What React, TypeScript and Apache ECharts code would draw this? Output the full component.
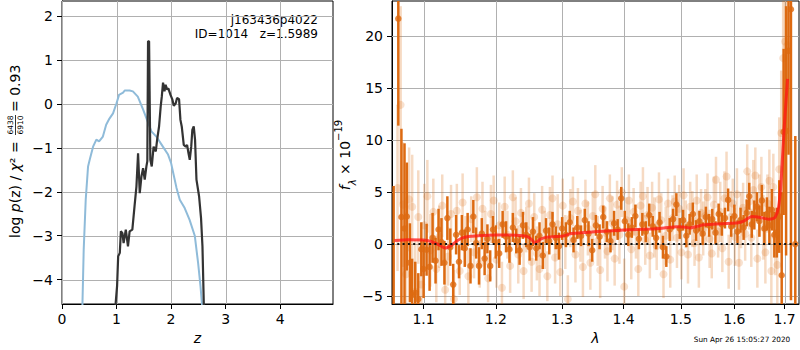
import React, { useEffect, useRef } from "react";
import * as echarts from "echarts";

const FONT = "'DejaVu Sans', sans-serif";

// ---- left panel: log p(z) curves ----
const zTicks = [0, 1, 2, 3, 4];
const logpTicks = [-4, -3, -2, -1, 0, 1, 2];

const blueCurve: [number, number][] = [
  [0.36, -6], [0.374, -4.6], [0.398, -3.32], [0.435, -2.18], [0.478, -1.42], [0.508, -1.27],
  [0.57, -0.97], [0.63, -0.81], [0.68, -0.85], [0.75, -0.74], [0.81, -0.47], [0.87, -0.33],
  [0.936, -0.21], [1.0, 0.02], [1.046, 0.21], [1.12, 0.26], [1.15, 0.31], [1.24, 0.31],
  [1.3, 0.29], [1.39, 0.17], [1.49, -0.13], [1.58, -0.43], [1.64, -0.62], [1.73, -0.74],
  [1.85, -0.97], [1.945, -1.15], [2.0, -1.34], [2.04, -1.57], [2.1, -1.91], [2.16, -2.18],
  [2.25, -2.37], [2.34, -2.64], [2.435, -3.0], [2.496, -3.62], [2.54, -4.15], [2.57, -4.6],
  [2.59, -6],
];

const blackCurve: [number, number][] = [
  [0.96, -6], [0.985, -4.53], [1.01, -4.15], [1.03, -3.47], [1.06, -3.39], [1.08, -2.9],
  [1.108, -2.94], [1.13, -3.17], [1.17, -2.86], [1.21, -3.24], [1.24, -2.9], [1.29, -2.86],
  [1.33, -2.33], [1.365, -1.88], [1.395, -1.12], [1.426, -2.03], [1.457, -1.65], [1.487, -1.46],
  [1.517, -1.72], [1.548, -1.42], [1.565, -1.3], [1.578, 1.43], [1.597, 1.43], [1.62, -1.27],
  [1.646, -1.42], [1.68, -0.97], [1.72, -1.08], [1.745, -0.81], [1.78, -0.51], [1.81, -0.05],
  [1.83, 0.17], [1.853, 0.49], [1.88, 0.29], [1.9, 0.44], [1.93, 0.33], [1.95, 0.36],
  [1.99, 0.21], [2.025, 0.1], [2.05, -0.04], [2.086, 0.02], [2.11, 0.14], [2.147, 0.11],
  [2.172, -0.36], [2.196, -0.51], [2.233, -0.93], [2.27, -0.97], [2.294, -0.93], [2.32, -1.12],
  [2.343, -1.27], [2.37, -0.97], [2.39, -0.59], [2.416, -0.51], [2.44, -0.81], [2.466, -1.72],
  [2.514, -2.1], [2.55, -2.6], [2.576, -3.24], [2.6, -4.53], [2.61, -6],
];

// ---- right panel: spectrum ----
const lamTicks = [1.1, 1.2, 1.3, 1.4, 1.5, 1.6, 1.7];
const fluxTicks = [-5, 0, 5, 10, 15, 20];
const lamRange = [1.0589, 1.7297];

// [lambda, flux, err]
const darkPoints: [number, number, number][] = [
  [1.061, -9, 14.6], [1.067, 21.7, 10.3], [1.071, 2.6, 8.5], [1.075, 1.5, 8.2], [1.078, 2.65, 5.2],
  [1.082, -1.8, 3.8], [1.085, -4.9, 3.5], [1.089, -4.7, 3.0], [1.093, -5.3, 2.5], [1.097, -0.5, 2.6],
  [1.1, -2.4, 2.8], [1.104, -0.55, 2.5], [1.108, -2.2, 2.3], [1.112, 0.6, 2.4], [1.116, -1.6, 2.2],
  [1.12, 1.4, 2.0], [1.124, 0.2, 2.3], [1.128, -1.8, 2.1], [1.132, 2.5, 2.1], [1.136, -0.3, 1.8],
  [1.14, -3.9, 2.0], [1.144, 0.9, 1.9], [1.148, -1.7, 1.6], [1.152, 1.1, 1.7], [1.156, -0.4, 1.8],
  [1.16, 1.4, 1.6], [1.164, -2.1, 1.7], [1.168, 2.65, 1.6], [1.172, 0.1, 1.5], [1.176, -2.1, 1.8],
  [1.18, 1.0, 1.5], [1.184, -1.4, 1.6], [1.188, 0.5, 1.4], [1.192, -2.1, 1.5], [1.196, 1.4, 1.3],
  [1.2, 0.2, 1.6], [1.205, -0.9, 1.4], [1.21, 1.9, 1.3], [1.215, 0.7, 1.5], [1.22, -0.5, 1.3],
  [1.225, 1.6, 1.4], [1.23, 0.3, 1.2], [1.235, -0.6, 1.4], [1.24, 1.8, 1.3], [1.245, 0.9, 1.2],
  [1.25, -0.3, 1.3], [1.255, 1.2, 1.4], [1.26, -0.4, 1.2], [1.265, 0.8, 1.3], [1.27, -1.1, 1.3],
  [1.275, 1.3, 1.2], [1.28, 0.3, 1.3], [1.285, 1.9, 1.2], [1.29, 0.6, 1.1], [1.295, -0.2, 1.3],
  [1.3, 1.5, 1.1], [1.306, 0.9, 1.2], [1.312, 2.1, 1.1], [1.318, 0.4, 1.2], [1.324, 1.6, 1.1],
  [1.33, 0.8, 1.0], [1.336, 2.3, 1.1], [1.342, 1.0, 1.2], [1.348, -0.6, 1.1], [1.354, 1.8, 1.0],
  [1.36, 0.7, 1.2], [1.366, 2.6, 1.1], [1.372, 1.2, 1.0], [1.378, 0.3, 1.1], [1.384, 2.0, 1.2],
  [1.39, 1.4, 1.0], [1.396, 4.4, 1.1], [1.402, 2.2, 1.0], [1.408, 0.9, 1.1], [1.414, 1.6, 1.0],
  [1.42, 2.7, 1.1], [1.426, 0.5, 1.0], [1.432, 1.9, 1.1], [1.438, 1.2, 1.0], [1.444, 2.8, 1.1],
  [1.45, 1.7, 1.0], [1.456, 0.6, 1.1], [1.462, 2.1, 1.0], [1.468, -0.3, 1.1], [1.474, -1.2, 1.0],
  [1.48, 1.4, 1.1], [1.486, 2.4, 1.0], [1.492, 3.8, 1.1], [1.498, 1.5, 1.0], [1.504, 2.3, 1.0],
  [1.51, 0.8, 1.1], [1.516, 1.9, 1.0], [1.522, 2.9, 1.1], [1.528, 1.3, 1.0], [1.534, 2.2, 1.0],
  [1.54, 1.0, 1.1], [1.546, 2.6, 1.0], [1.552, 1.8, 1.1], [1.558, 2.4, 1.0], [1.564, 1.1, 1.1],
  [1.57, 2.9, 1.0], [1.576, 1.9, 1.1], [1.582, 2.5, 1.0], [1.588, 4.25, 1.1], [1.594, 1.7, 1.0],
  [1.6, 2.7, 1.1], [1.606, 1.2, 1.1], [1.612, 2.3, 1.2], [1.618, 1.6, 1.2], [1.624, 3.0, 1.3],
  [1.629, 4.6, 1.3], [1.634, 1.9, 1.3], [1.639, 2.8, 1.4], [1.644, 3.6, 1.4], [1.649, 2.2, 1.5],
  [1.654, 4.2, 1.5], [1.659, 1.5, 1.6], [1.664, 2.9, 1.6], [1.669, 1.8, 1.8], [1.674, 3.3, 2.0],
  [1.679, 0.9, 2.2], [1.684, 1.1, 2.4], [1.689, 2.65, 3.5], [1.694, -3, 8], [1.698, 10.8, 8],
  [1.703, 10.9, 12], [1.708, 18.6, 10], [1.713, 22.6, 28], [1.722, 0, 10.4],
];

const lightPoints: [number, number, number][] = [
  [1.066, 5.4, 8], [1.07, 13.4, 9.5], [1.073, 3.8, 6], [1.077, -2.9, 6], [1.081, 4.3, 5],
  [1.085, 3.6, 5], [1.089, -4.6, 5], [1.093, 2.6, 4.5], [1.097, -3.9, 4], [1.101, 1.8, 4],
  [1.105, 4.6, 3.5], [1.109, -0.6, 3.5], [1.113, 3.1, 3.2], [1.117, -2.4, 3.2], [1.121, 0.7, 3],
  [1.125, 3.7, 3], [1.129, -4.4, 3], [1.133, -1.2, 2.8], [1.137, 2.9, 2.8], [1.141, -5.3, 2.8],
  [1.145, 3.2, 2.6], [1.149, -2.6, 2.3], [1.153, 4.0, 2.8], [1.157, 0.3, 2.4], [1.161, -3.1, 2.7],
  [1.165, 2.4, 2.2], [1.169, -0.8, 2.5], [1.173, 4.5, 2.9], [1.177, -1.9, 2.3], [1.181, 3.4, 2.6],
  [1.185, 0.6, 2.6], [1.189, -3.3, 2.3], [1.193, 2.9, 2.8], [1.197, 4.2, 2.4], [1.201, -1.5, 2.7],
  [1.205, 1.8, 2.2], [1.209, -4.2, 2.5], [1.213, 3.6, 2.9], [1.217, 0.9, 2.3], [1.221, -2.1, 2.6],
  [1.225, 4.5, 2.6], [1.229, 2.2, 2.3], [1.233, -1.0, 2.8], [1.237, 3.0, 2.4], [1.241, -2.6, 2.7],
  [1.245, 1.4, 2.2], [1.249, 3.9, 2.5], [1.253, -1.7, 2.9], [1.257, 2.6, 2.3], [1.261, -0.9, 2.6],
  [1.265, -2.4, 2.6], [1.269, 3.3, 2.3], [1.273, 0.4, 2.8], [1.277, -3.1, 2.4], [1.281, 2.8, 2.7],
  [1.285, 4.4, 2.2], [1.289, -1.3, 2.5], [1.293, 1.9, 2.9], [1.297, -2.7, 2.3], [1.301, 3.7, 2.6],
  [1.305, 0.2, 2.6], [1.309, -5.3, 2.3], [1.313, 2.5, 2.8], [1.317, 4.1, 2.4], [1.321, -1.0, 2.7],
  [1.325, 3.2, 2.2], [1.329, 0.8, 2.5], [1.333, -2.2, 2.9], [1.337, 3.9, 2.3], [1.341, 1.5, 2.6],
  [1.345, -1.8, 2.6], [1.349, 2.7, 2.3], [1.353, 4.8, 2.8], [1.357, 0.3, 2.4], [1.361, -2.5, 2.7],
  [1.365, 3.4, 2.2], [1.369, 1.1, 2.5], [1.373, -0.7, 2.9], [1.377, 4.4, 2.3], [1.381, 2.0, 2.6],
  [1.385, -1.4, 2.6], [1.389, 3.8, 2.3], [1.393, 0.9, 2.8], [1.397, 5.0, 2.4], [1.401, -4.1, 2.7],
  [1.405, 2.3, 2.2], [1.409, 4.2, 2.5], [1.413, -0.5, 2.9], [1.417, 3.1, 2.3], [1.421, 1.2, 2.6],
  [1.425, -2.4, 2.6], [1.429, 3.7, 2.3], [1.433, 4.6, 2.8], [1.437, 0.4, 2.4], [1.441, 2.8, 2.7],
  [1.445, -1.1, 2.2], [1.449, 3.5, 2.5], [1.453, 1.6, 2.9], [1.457, -0.2, 2.3], [1.461, 4.3, 2.6],
  [1.465, 2.3, 2.6], [1.469, -2.9, 2.3], [1.473, 0.8, 2.8], [1.477, 3.9, 2.4], [1.481, -1.5, 2.7],
  [1.485, 2.5, 2.2], [1.489, 4.1, 2.5], [1.493, 0.6, 2.9], [1.497, 3.4, 2.3], [1.501, -0.8, 2.6],
  [1.505, 4.7, 2.6], [1.509, 1.9, 2.3], [1.513, -1.0, 2.8], [1.517, 3.6, 2.4], [1.521, 2.4, 2.7],
  [1.525, 0.1, 2.2], [1.529, 4.2, 2.5], [1.533, -1.3, 2.9], [1.537, 3.0, 2.3], [1.541, 1.5, 2.6],
  [1.545, 2.7, 2.6], [1.549, 4.5, 2.3], [1.553, 0.5, 2.8], [1.557, -0.9, 2.4], [1.561, 3.8, 2.7],
  [1.565, 6.2, 2.2], [1.569, 1.2, 2.5], [1.573, 3.1, 2.9], [1.577, -0.4, 2.3], [1.581, 4.4, 2.6],
  [1.585, 6.5, 2.4], [1.589, -1.7, 2.6], [1.593, 2.6, 2.5], [1.597, 3.9, 2.4], [1.601, 0.7, 2.8],
  [1.605, 4.8, 2.5], [1.609, -1.8, 2.6], [1.613, 2.3, 2.7], [1.617, 3.5, 2.4], [1.621, 1.0, 2.6],
  [1.625, 7.0, 2.6], [1.629, 4.1, 2.7], [1.633, 0.6, 2.8], [1.637, 5.2, 2.9], [1.641, 6.6, 2.7],
  [1.645, -1.4, 2.8], [1.649, 3.7, 3.0], [1.653, 5.5, 2.9], [1.657, 1.6, 3.1], [1.661, -0.8, 3.0],
  [1.665, 3.9, 2.8], [1.669, 6.1, 3.0], [1.673, -2.6, 3.5], [1.677, 5.5, 3.2], [1.681, 0.8, 3.8],
  [1.685, -2.0, 4.5], [1.689, 7.2, 5], [1.693, 10.7, 6], [1.697, 17.9, 7], [1.701, 19.5, 8],
  [1.705, 19.1, 9],
];

const modelLine: [number, number][] = [
  [1.062, 0.35], [1.08, 0.42], [1.1, 0.4], [1.11, 0.25], [1.12, -0.05], [1.129, -0.38],
  [1.138, -0.1], [1.146, 0.35], [1.154, 0.62], [1.165, 0.75], [1.175, 0.8], [1.19, 0.85],
  [1.21, 0.87], [1.23, 0.85], [1.245, 0.75], [1.252, 0.5], [1.2586, 0.1], [1.266, 0.45],
  [1.2765, 0.67], [1.29, 0.72], [1.302, 0.77], [1.313, 1.0], [1.33, 1.08], [1.356, 1.2],
  [1.38, 1.28], [1.4, 1.35], [1.446, 1.45], [1.47, 1.55], [1.493, 1.67], [1.505, 1.65],
  [1.517, 1.55], [1.53, 1.7], [1.542, 1.85], [1.565, 1.92], [1.592, 2.0], [1.608, 2.05],
  [1.618, 2.2], [1.627, 2.5], [1.6344, 2.65], [1.651, 2.55], [1.6675, 2.4], [1.676, 2.45],
  [1.681, 2.6], [1.6877, 3.6], [1.692, 5.5], [1.6946, 7.5], [1.6994, 11.4], [1.706, 15.9],
];

const DARK = "#dd6a11";
const LIGHT = "rgba(221,106,17,0.25)";
const GRID_COLOR = "#b0b0b0";

const minus = (s: string) => s.replace("-", "\u2212");

function errBars(data: [number, number, number][], color: string, width: number) {
  return {
    type: "custom",
    xAxisIndex: 1,
    yAxisIndex: 1,
    clip: true,
    silent: true,
    data: data.map((d) => [Math.log(d[0]), d[1] - d[2], d[1] + d[2]]),
    encode: { x: 0, y: [1, 2] },
    renderItem: (_p: any, api: any) => {
      const a = api.coord([api.value(0), api.value(1)]);
      const b = api.coord([api.value(0), api.value(2)]);
      return {
        type: "line",
        shape: { x1: a[0], y1: a[1], x2: b[0], y2: b[1] },
        style: { stroke: color, lineWidth: width },
      };
    },
  };
}

// grid lines drawn through the axes' own scales
function gridLines(idx: number, vals: number[], vertical: boolean) {
  return {
    type: "custom",
    xAxisIndex: idx,
    yAxisIndex: idx,
    z: 1,
    silent: true,
    clip: false,
    data: vals.map((v) => [v, v]),
    encode: { x: 0, y: 1 },
    renderItem: (params: any, api: any) => {
      const cs = params.coordSys;
      const v = api.value(0);
      if (vertical) {
        const x = Math.round(api.coord([v, 0])[0]) + 0.5;
        return { type: "line", shape: { x1: x, y1: cs.y, x2: x, y2: cs.y + cs.height }, style: { stroke: GRID_COLOR, lineWidth: 1 } };
      }
      const y = Math.round(api.coord([0, v])[1]) + 0.5;
      return { type: "line", shape: { x1: cs.x, y1: y, x2: cs.x + cs.width, y2: y }, style: { stroke: GRID_COLOR, lineWidth: 1 } };
    },
  };
}

export default function App() {
  const ref = useRef<HTMLDivElement>(null);
  useEffect(() => {
    if (!ref.current) return;
    const chart = echarts.init(ref.current, undefined, { renderer: "svg" });
    const axisText = { fontSize: 14, fontFamily: FONT, color: "#000" };
    const grid = { show: true, borderColor: "#000", borderWidth: 1, backgroundColor: "#fff" };
    const tick = (vals: number[]) => ({ show: true, inside: false, length: 5, lineStyle: { color: "#000" }, customValues: vals });
    const axLine = { show: true, onZero: false, lineStyle: { color: "#000" } };
    const lamTickVals = lamTicks.map((v) => Math.log(v));

    chart.setOption({
      animation: false,
      grid: [
        { left: 62, top: 1, width: 271, height: 303, ...grid },
        { left: 392, top: 1, width: 407, height: 303, ...grid },
      ],
      xAxis: [
        {
          gridIndex: 0, type: "value", min: 0, max: 4.97,
          axisLine: axLine,
          axisTick: tick(zTicks),
          axisLabel: { ...axisText, margin: 8, customValues: zTicks, formatter: (v: number) => String(v) },
          splitLine: { show: false },
          name: "z", nameLocation: "middle", nameGap: 27,
          nameTextStyle: { ...axisText, fontStyle: "italic" },
        },
        {
          gridIndex: 1, type: "value", min: Math.log(lamRange[0]), max: Math.log(lamRange[1]),
          axisLine: axLine,
          axisTick: tick(lamTickVals),
          axisLabel: { ...axisText, margin: 8, customValues: lamTickVals, formatter: (v: number) => Math.exp(v).toFixed(1) },
          splitLine: { show: false },
          name: "λ", nameLocation: "middle", nameGap: 27,
          nameTextStyle: { ...axisText, fontStyle: "italic" },
        },
      ],
      yAxis: [
        {
          gridIndex: 0, type: "value", min: -4.556, max: 2.35,
          axisLine: axLine,
          axisTick: tick(logpTicks),
          axisLabel: { ...axisText, margin: 9, customValues: logpTicks, formatter: (v: number) => minus(String(v)) },
          splitLine: { show: false },
        },
        {
          gridIndex: 1, type: "value", min: -5.77, max: 23.4,
          axisLine: axLine,
          axisTick: tick(fluxTicks),
          axisLabel: { ...axisText, margin: 9, customValues: fluxTicks, formatter: (v: number) => minus(String(v)) },
          splitLine: { show: false },
        },
      ],
      series: [
        gridLines(0, zTicks, true),
        gridLines(0, logpTicks, false),
        gridLines(1, lamTickVals, true),
        gridLines(1, fluxTicks, false),
        {
          type: "line", xAxisIndex: 0, yAxisIndex: 0, data: blueCurve, showSymbol: false, clip: true,
          lineStyle: { color: "#8fbbd9", width: 2 }, silent: true,
        },
        {
          type: "line", xAxisIndex: 0, yAxisIndex: 0, data: blackCurve, showSymbol: false, clip: true,
          lineStyle: { color: "#333333", width: 2.2 }, silent: true,
        },
        errBars(lightPoints, LIGHT, 2.5),
        {
          type: "scatter", xAxisIndex: 1, yAxisIndex: 1, clip: true, silent: true,
          data: lightPoints.map((d) => [Math.log(d[0]), d[1]]),
          symbolSize: 8, itemStyle: { color: LIGHT },
        },
        errBars(darkPoints, DARK, 2.5),
        {
          type: "scatter", xAxisIndex: 1, yAxisIndex: 1, clip: true, silent: true,
          data: darkPoints.map((d) => [Math.log(d[0]), d[1]]),
          symbolSize: 6.5, itemStyle: { color: DARK },
        },
        {
          type: "line", xAxisIndex: 1, yAxisIndex: 1, clip: true, silent: true, showSymbol: false,
          data: modelLine.map((d) => [Math.log(d[0]), d[1]]), smooth: 0.2,
          lineStyle: { color: "rgba(255,20,20,0.75)", width: 3 },
        },
        {
          type: "line", xAxisIndex: 1, yAxisIndex: 1, clip: true, silent: true, showSymbol: false,
          data: lamRange.map((l) => [Math.log(l), 0]),
          lineStyle: { color: "#111", width: 2, type: [2, 3.3] },
        },
      ],
      graphic: [
        {
          type: "text", x: 318, y: 20,
          style: { text: "j163436p4022", fontSize: 12, fontFamily: FONT, fill: "#000", align: "right", textAlign: "right", verticalAlign: "middle", textVerticalAlign: "middle" },
        },
        {
          type: "text", x: 318, y: 34,
          style: { text: "ID=1014\u00a0\u00a0\u00a0z=1.5989", fontSize: 12, fontFamily: FONT, fill: "#000", align: "right", textAlign: "right", verticalAlign: "middle", textVerticalAlign: "middle" },
        },
        {
          type: "group", x: 15, y: 238, rotation: Math.PI / 2,
          children: [
            {
              type: "text", x: 0, y: 0,
              style: {
                text: "log {i|p}(z) / {i|χ}² =",
                rich: { i: { fontStyle: "italic", fontSize: 14, fontFamily: FONT, fill: "#000" } },
                fontSize: 14, fontFamily: FONT, fill: "#000",
                align: "left", textAlign: "left", verticalAlign: "middle", textVerticalAlign: "middle",
              },
            },
            {
              type: "text", x: 113, y: -4.5,
              style: { text: "6438", fontSize: 7.5, fontFamily: FONT, fill: "#000", align: "center", textAlign: "center", verticalAlign: "middle", textVerticalAlign: "middle" },
            },
            { type: "line", shape: { x1: 103, y1: 0.5, x2: 123, y2: 0.5 }, style: { stroke: "#000", lineWidth: 0.8 } },
            {
              type: "text", x: 113, y: 5.5,
              style: { text: "6910", fontSize: 7.5, fontFamily: FONT, fill: "#000", align: "center", textAlign: "center", verticalAlign: "middle", textVerticalAlign: "middle" },
            },
            {
              type: "text", x: 126, y: 0,
              style: { text: "= 0.93", fontSize: 14, fontFamily: FONT, fill: "#000", align: "left", textAlign: "left", verticalAlign: "middle", textVerticalAlign: "middle" },
            },
          ],
        },
        {
          type: "group", x: 345, y: 155, rotation: Math.PI / 2,
          children: [
            {
              type: "text", x: 0, y: 0,
              style: {
                text: "{i|f}{sub|λ}{n| × 10}{sup|−19}",
                rich: {
                  i: { fontStyle: "italic", fontSize: 14, fontFamily: FONT, fill: "#000", lineHeight: 24, verticalAlign: "middle" },
                  n: { fontSize: 14, fontFamily: FONT, fill: "#000", lineHeight: 24, verticalAlign: "middle" },
                  sub: { fontStyle: "italic", fontSize: 10, fontFamily: FONT, fill: "#000", lineHeight: 24, verticalAlign: "bottom" },
                  sup: { fontSize: 10, fontFamily: FONT, fill: "#000", lineHeight: 24, verticalAlign: "top" },
                },
                align: "center", textAlign: "center", verticalAlign: "middle", textVerticalAlign: "middle",
              },
            },
          ],
        },
        {
          type: "text", x: 742, y: 339,
          style: { text: "Sun Apr 26 15:05:27 2020", fontSize: 7.3, fontFamily: FONT, fill: "#000", align: "center", textAlign: "center", verticalAlign: "middle", textVerticalAlign: "middle" },
        },
      ],
    });
    return () => chart.dispose();
  }, []);
  return <div ref={ref} style={{ position: "absolute", left: 0, top: 0, width: 800, height: 350, background: "#fff" }} />;
}
